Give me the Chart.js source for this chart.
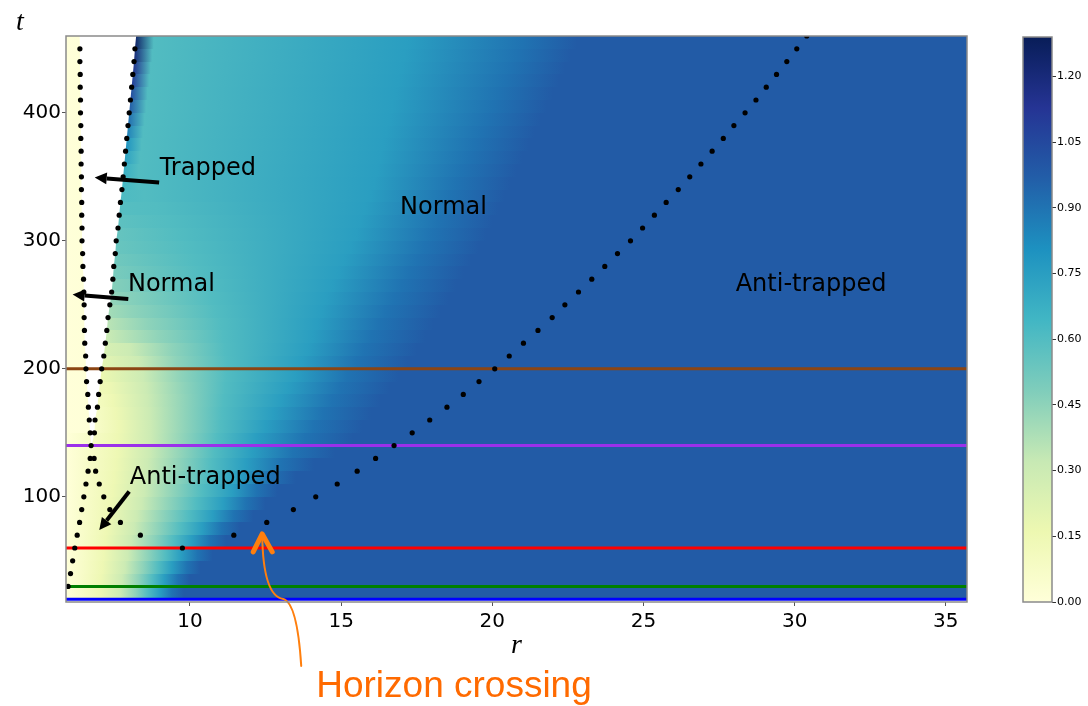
<!DOCTYPE html>
<html>
<head>
<meta charset="utf-8">
<script src="https://cdn.jsdelivr.net/npm/chart.js@4.4.1/dist/chart.umd.min.js"></script>
<style>
  html, body { margin: 0; padding: 0; background: #fff; }
  #wrap { position: relative; width: 1088px; height: 706px; overflow: hidden; }
  #main-box { position: absolute; left: 0; top: 0; width: 1088px; height: 706px; }
  #cbar-box { position: absolute; left: 1000px; top: 0; width: 88px; height: 706px; }
</style>
</head>
<body>
<div id="wrap">
  <div id="main-box"><canvas id="chart-main"></canvas></div>
  <div id="cbar-box"><canvas id="chart-cbar"></canvas></div>
</div>
<script>
// ============================================================
// Axes
// ============================================================
const rMin = 5.9, rMax = 35.7;
const tMin = 17.8, tMax = 460;
const rTicks = [10, 15, 20, 25, 30, 35];
const tTicks = [100, 200, 300, 400];
const cbMax = 1.29;
const cbTicks = [0, 0.15, 0.30, 0.45, 0.60, 0.75, 0.90, 1.05, 1.20];

// ============================================================
// Heat map: one row per [t, t+10); r where each row reaches a level
// ============================================================
const rowT = [20, 30, 40, 50, 60, 70, 80, 90, 100, 110, 120, 130, 140,
  150, 160, 170, 180, 190, 200, 210, 220, 230, 240, 250, 260, 270, 280, 290,
  300, 310, 320, 330, 340, 350, 360, 370, 380, 390, 400, 410, 420, 430, 440, 450];
// value just right of the white gap (rows above t = 140)
const edgeV = [null, null, null, null, null, null, null, null, null, null, null, null, null,
  0.06, 0.08, 0.10, 0.13, 0.16, 0.20, 0.25, 0.30, 0.35, 0.40, 0.44, 0.47, 0.50, 0.52, 0.54,
  0.55, 0.57, 0.59, 0.61, 0.64, 0.68, 0.74, 0.80, 0.86, 0.92, 0.98, 1.04, 1.10, 1.15, 1.20, 1.25];
const levels = [0.15, 0.30, 0.45, 0.60, 0.75, 0.90];
const iso015 = [7.0, 7.05, 7.1, 7.15, 7.2, 7.25, 7.3, 7.4, 7.45, 7.5, 7.55, 7.6, 7.6,
  7.65, 7.55, 7.45, 7.3, null, null, null, null, null, null, null, null, null, null, null,
  null, null, null, null, null, null, null, null, null, null, null, null, null, null, null, null];
const iso030 = [7.7, 7.75, 7.85, 7.95, 8.05, 8.15, 8.25, 8.4, 8.5, 8.55, 8.6, 8.65, 8.7,
  8.7, 8.65, 8.6, 8.55, 8.45, 8.3, 8.0, null, null, null, null, null, null, null, null,
  null, null, null, null, null, null, null, null, null, null, null, null, null, null, null, null];
const iso045 = [8.2, 8.3, 8.45, 8.6, 8.8, 8.95, 9.1, 9.3, 9.45, 9.55, 9.65, 9.75, 9.8,
  9.85, 9.85, 9.85, 9.8, 9.7, 9.55, 9.4, 9.0, 8.6, 8.1, 7.6, null, null, null, null,
  null, null, null, null, null, null, null, null, null, null, null, null, null, null, null, null];
const iso060 = [8.6, 8.75, 8.95, 9.2, 9.45, 9.7, 9.95, 10.2, 10.4, 10.55, 10.7, 10.8, 10.9,
  11.0, 11.05, 11.1, 11.15, 11.2, 11.2, 11.15, 11.1, 11.0, 10.85, 10.7, 10.5, 10.3, 10.1, 9.9,
  9.6, 9.3, 8.9, 8.5, 8.3, 8.3, 8.35, 8.4, 8.45, 8.5, 8.55, 8.6, 8.65, 8.7, 8.75, 8.8];
const iso075 = [9.0, 9.15, 9.4, 9.7, 10.05, 10.4, 10.75, 11.1, 11.4, 11.65, 11.85, 12.05, 12.2,
  12.5, 12.75, 13.0, 13.25, 13.5, 13.7, 13.9, 14.05, 14.2, 14.35, 14.5, 14.7, 14.9, 15.1, 15.3,
  15.5, 15.65, 15.8, 15.95, 16.1, 16.2, 16.3, 16.4, 16.5, 16.6, 16.7, 16.8, 16.9, 17.0, 17.1, 17.2];
const iso090 = [9.4, 9.6, 9.9, 10.25, 10.65, 11.05, 11.45, 11.85, 12.2, 12.6, 13.0, 13.4, 13.8,
  14.1, 14.4, 14.7, 14.95, 15.2, 15.5, 15.75, 16.0, 16.25, 16.5, 16.75, 17.0, 17.25, 17.5, 17.75,
  18.0, 18.2, 18.4, 18.6, 18.8, 19.0, 19.2, 19.4, 19.6, 19.8, 20.0, 20.2, 20.4, 20.6, 20.8, 21.0];
// where the row settles on the far-field value
const farV = 0.98;
const isoFar = [9.8, 10.0, 10.35, 10.75, 11.2, 11.65, 12.1, 12.5, 12.9, 13.5, 14.1, 14.8, 15.4,
  15.7, 16.0, 16.3, 16.6, 16.9, 17.2, 17.5, 17.8, 18.05, 18.3, 18.55, 18.8, 19.05, 19.3, 19.55,
  19.8, 20.0, 20.2, 20.4, 20.6, 20.8, 21.0, 21.2, 21.4, 21.6, 21.8, 22.0, 22.2, 22.4, 22.6, 22.8];

// ============================================================
// Dotted curves
// ============================================================
// upper branches (bound the white gap)
const upT = [140, 150, 160, 170, 180, 190, 200, 210, 220, 230, 240, 250, 260, 270, 280, 290,
  300, 310, 320, 330, 340, 350, 360, 370, 380, 390, 400, 410, 420, 430, 440, 450, 460];
const upRLeft = [6.73, 6.70, 6.67, 6.64, 6.62, 6.58, 6.56, 6.55, 6.52, 6.51, 6.50, 6.50, 6.49,
  6.48, 6.46, 6.45, 6.43, 6.43, 6.42, 6.42, 6.41, 6.41, 6.40, 6.40, 6.39, 6.39, 6.38, 6.38,
  6.37, 6.37, 6.36, 6.36, 6.35];
const upRRight = [6.75, 6.84, 6.86, 6.94, 6.98, 7.03, 7.08, 7.15, 7.20, 7.25, 7.29, 7.35, 7.41,
  7.45, 7.48, 7.53, 7.56, 7.62, 7.66, 7.70, 7.75, 7.79, 7.83, 7.87, 7.91, 7.95, 7.99, 8.03,
  8.07, 8.11, 8.15, 8.18, 8.22];
// lower branches
const lowTA = [30, 40, 50, 60, 70, 80, 90, 100, 110, 120, 130, 140];
const lowRA = [5.97, 6.05, 6.12, 6.19, 6.27, 6.35, 6.42, 6.49, 6.56, 6.63, 6.70, 6.73];
const lowTB = [70, 80, 90, 100, 110, 120, 130];
const lowRB = [8.36, 7.70, 7.35, 7.15, 7.00, 6.88, 6.83];
// outgoing branch
const outT = [60, 70, 80, 90, 100, 110, 120, 130, 140, 150, 160, 170, 180, 190, 200, 210, 220,
  230, 240, 250, 260, 270, 280, 290, 300, 310, 320, 330, 340, 350, 360, 370, 380, 390, 400,
  410, 420, 430, 440, 450, 460];
const outR = [9.75, 11.45, 12.54, 13.42, 14.16, 14.87, 15.53, 16.14, 16.75, 17.35, 17.93, 18.50,
  19.04, 19.56, 20.08, 20.56, 21.03, 21.51, 21.98, 22.40, 22.85, 23.29, 23.72, 24.14, 24.57,
  24.97, 25.36, 25.75, 26.15, 26.53, 26.90, 27.27, 27.64, 27.99, 28.36, 28.72, 29.06, 29.40,
  29.74, 30.07, 30.40];

// ============================================================
// Horizontal time slices
// ============================================================
const sliceT = [20, 30, 60, 140, 200];
const sliceColors = ['#0000ff', '#008000', '#ff0000', '#9b30ea', '#8b4513'];

// ============================================================
// Colour map (YlGnBu)
// ============================================================
const YLGNBU = ['#ffffd9', '#edf8b1', '#c7e9b4', '#7fcdbb', '#41b6c4', '#1d91c0', '#225ea8', '#253494', '#081d58'];
const hexRgb = h => [1, 3, 5].map(i => parseInt(h.slice(i, i + 2), 16));
function cmap(v) {
  const f = Math.min(Math.max(v / cbMax, 0), 1) * 8;
  const i = Math.min(Math.floor(f), 7), u = f - i;
  const a = hexRgb(YLGNBU[i]), b = hexRgb(YLGNBU[i + 1]);
  const c = a.map((av, k) => Math.round(av + (b[k] - av) * u));
  return `rgb(${c[0]},${c[1]},${c[2]})`;
}

const pts = (ts, rs) => ts.map((t, i) => ({ x: rs[i], y: t }));

// ============================================================
// Plugins
// ============================================================
const framePlugin = {
  id: 'frame',
  afterDraw(chart) {
    const { ctx, chartArea: a } = chart;
    ctx.save();
    ctx.strokeStyle = '#8a8a8a';
    ctx.lineWidth = 1.5;
    ctx.strokeRect(a.left, a.top, a.right - a.left, a.bottom - a.top);
    ctx.restore();
  }
};

const heatmapPlugin = {
  id: 'heatmap',
  beforeDatasetsDraw(chart) {
    const { ctx, chartArea: a, scales: { x, y } } = chart;
    const isoRows = [iso015, iso030, iso045, iso060, iso075, iso090];
    const x0 = x.getPixelForValue(rMin), x1 = x.getPixelForValue(rMax);
    ctx.save();
    ctx.beginPath();
    ctx.rect(a.left, a.top, a.right - a.left, a.bottom - a.top);
    ctx.clip();

    rowT.forEach((t, i) => {
      const stops = [[rMin, 0]];
      if (edgeV[i] != null) {
        const k = upT.indexOf(t);
        stops.push([upRLeft[k], 0.01], [upRRight[k], edgeV[i]]);
      }
      isoRows.forEach((arr, j) => { if (arr[i] != null) stops.push([arr[i], levels[j]]); });
      stops.push([isoFar[i], farV], [rMax, farV]);
      stops.sort((p, q) => p[0] - q[0]);
      const g = ctx.createLinearGradient(x0, 0, x1, 0);
      stops.forEach(([r, v]) => {
        const off = Math.min(Math.max((x.getPixelForValue(r) - x0) / (x1 - x0), 0), 1);
        g.addColorStop(off, cmap(v));
      });
      const yTop = Math.round(y.getPixelForValue(t + 10));
      const yBot = Math.round(y.getPixelForValue(t));
      ctx.fillStyle = g;
      ctx.fillRect(x0, yTop, x1 - x0, yBot - yTop);
    });

    // white gap between the two upper branches
    ctx.beginPath();
    upT.forEach((t, k) => {
      const px = x.getPixelForValue(upRLeft[k]), py = y.getPixelForValue(t);
      if (k === 0) ctx.moveTo(px, py); else ctx.lineTo(px, py);
    });
    for (let k = upT.length - 1; k >= 0; k--) {
      ctx.lineTo(x.getPixelForValue(upRRight[k]), y.getPixelForValue(upT[k]));
    }
    ctx.closePath();
    ctx.fillStyle = '#ffffff';
    ctx.fill();
    ctx.restore();
  }
};

function arrow(ctx, x0, y0, x1, y1, w, headLen, headW) {
  const ang = Math.atan2(y1 - y0, x1 - x0);
  const bx = x1 - headLen * Math.cos(ang), by = y1 - headLen * Math.sin(ang);
  ctx.lineWidth = w;
  ctx.beginPath();
  ctx.moveTo(x0, y0);
  ctx.lineTo(bx, by);
  ctx.stroke();
  ctx.beginPath();
  ctx.moveTo(x1, y1);
  ctx.lineTo(bx + headW / 2 * Math.sin(ang), by - headW / 2 * Math.cos(ang));
  ctx.lineTo(bx - headW / 2 * Math.sin(ang), by + headW / 2 * Math.cos(ang));
  ctx.closePath();
  ctx.fill();
}

const annotatePlugin = {
  id: 'annotate',
  afterDatasetsDraw(chart) {
    const { ctx, chartArea: a, scales: { x, y } } = chart;
    const P = (r, t) => [x.getPixelForValue(r), y.getPixelForValue(t)];
    ctx.save();

    // region labels
    ctx.fillStyle = '#000';
    ctx.font = '24px "DejaVu Sans"';
    ctx.textAlign = 'left';
    ctx.textBaseline = 'middle';
    [['Trapped', 9.0, 356], ['Normal', 7.95, 265.6], ['Anti-trapped', 8.01, 114.8],
     ['Normal', 16.95, 325.8], ['Anti-trapped', 28.05, 265.6]].forEach(([s, r, t]) => {
      const [px, py] = P(r, t);
      ctx.fillText(s, px, py);
    });

    // black arrows
    ctx.strokeStyle = '#000';
    ctx.lineCap = 'butt';
    [[8.98, 345.5, 6.85, 349.5], [7.96, 254.5, 6.12, 258.1], [7.99, 104.1, 7.0, 74.0]].forEach(([r0, t0, r1, t1]) => {
      const [ax, ay] = P(r0, t0), [bx, by] = P(r1, t1);
      arrow(ctx, ax, ay, bx, by, 4, 12, 12);
    });

    // horizon crossing arrow
    const [tx, ty] = P(12.39, 71.0);
    ctx.strokeStyle = '#ff7f0e';
    ctx.lineCap = 'round';
    ctx.lineJoin = 'round';
    ctx.lineWidth = 2;
    ctx.beginPath();
    ctx.moveTo(tx, ty + 2);
    ctx.quadraticCurveTo(tx + 1, ty + 62, tx + 21, ty + 65);
    ctx.quadraticCurveTo(tx + 35, ty + 69, tx + 39, ty + 132);
    ctx.stroke();
    ctx.lineWidth = 5;
    ctx.beginPath();
    ctx.moveTo(tx - 9, ty + 18);
    ctx.lineTo(tx, ty);
    ctx.lineTo(tx + 10, ty + 18);
    ctx.stroke();

    ctx.fillStyle = '#ff6a00';
    ctx.font = '37px "Liberation Sans"';
    ctx.textBaseline = 'middle';
    ctx.fillText('Horizon crossing', tx + 54, 687);

    // axis titles
    ctx.fillStyle = '#000';
    ctx.font = 'italic 28px "Liberation Serif"';
    ctx.textAlign = 'center';
    ctx.fillText('t', a.left - 46, a.top - 13);
    ctx.fillText('r', (a.left + a.right) / 2, a.bottom + 44);
    ctx.restore();
  }
};

// ============================================================
// Main chart
// ============================================================
const dotStyle = { type: 'scatter', pointRadius: 2.6, pointBackgroundColor: '#000', pointBorderWidth: 0, showLine: false, clip: 0 };

new Chart(document.getElementById('chart-main'), {
  type: 'scatter',
  data: {
    datasets: [
      { ...dotStyle, data: pts(lowTA, lowRA) },
      { ...dotStyle, data: pts(lowTB, lowRB) },
      { ...dotStyle, data: pts(upT.slice(1, -1), upRLeft.slice(1, -1)) },
      { ...dotStyle, data: pts(upT.slice(1, -1), upRRight.slice(1, -1)) },
      { ...dotStyle, data: pts(outT, outR) },
      ...sliceT.map((t, i) => ({
        type: 'line',
        data: [{ x: rMin, y: t }, { x: rMax, y: t }],
        borderColor: sliceColors[i],
        borderWidth: 3,
        pointRadius: 0,
        clip: 0
      }))
    ]
  },
  options: {
    responsive: true,
    maintainAspectRatio: false,
    animation: false,
    layout: { padding: { left: 0, top: 36, right: 121, bottom: 0 } },
    plugins: { legend: { display: false }, tooltip: { enabled: false } },
    scales: {
      x: {
        type: 'linear',
        min: rMin,
        max: rMax,
        afterFit: s => { s.height = 104; },
        afterBuildTicks: s => { s.ticks = rTicks.map(v => ({ value: v })); },
        ticks: { color: '#000', font: { family: 'DejaVu Sans', size: 20 }, padding: 4, maxRotation: 0 },
        grid: { drawOnChartArea: false, tickLength: 4, color: '#555' },
        border: { display: false }
      },
      y: {
        type: 'linear',
        min: tMin,
        max: tMax,
        afterFit: s => { s.width = 66; },
        afterBuildTicks: s => { s.ticks = tTicks.map(v => ({ value: v })); },
        ticks: { color: '#000', font: { family: 'DejaVu Sans', size: 20 }, padding: 1 },
        grid: { drawOnChartArea: false, tickLength: 4, color: '#555' },
        border: { display: false }
      }
    }
  },
  plugins: [heatmapPlugin, annotatePlugin, framePlugin]
});

// ============================================================
// Colour bar
// ============================================================
function cbGradient(chart) {
  const a = chart.chartArea;
  if (!a) return YLGNBU[4];
  const g = chart.ctx.createLinearGradient(0, a.bottom, 0, a.top);
  YLGNBU.forEach((c, i) => g.addColorStop(i / (YLGNBU.length - 1), c));
  return g;
}

new Chart(document.getElementById('chart-cbar'), {
  type: 'bar',
  data: {
    labels: [''],
    datasets: [{
      data: [[0, cbMax]],
      backgroundColor: ctx => cbGradient(ctx.chart),
      borderWidth: 0,
      barPercentage: 1,
      categoryPercentage: 1
    }]
  },
  options: {
    responsive: true,
    maintainAspectRatio: false,
    animation: false,
    layout: { padding: { left: 23, top: 37, right: 0, bottom: 104 } },
    plugins: { legend: { display: false }, tooltip: { enabled: false } },
    scales: {
      x: { display: false },
      y: {
        position: 'right',
        min: 0,
        max: cbMax,
        afterFit: s => { s.width = 36; },
        afterBuildTicks: s => { s.ticks = cbTicks.map(v => ({ value: v })); },
        ticks: { color: '#000', font: { family: 'DejaVu Sans', size: 11 }, padding: 1, callback: v => v.toFixed(2) },
        grid: { drawOnChartArea: false, tickLength: 4, color: '#333' },
        border: { display: false }
      }
    }
  },
  plugins: [framePlugin]
});
</script>
</body>
</html>
